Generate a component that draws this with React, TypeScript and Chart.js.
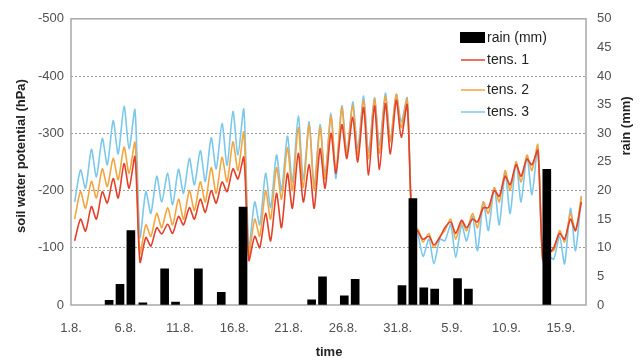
import { useEffect, useRef } from 'react';
import { Chart, registerables } from 'chart.js';

Chart.register(...registerables);

// x axis: days since 1.8.
const xTickLabels = ['1.8.', '6.8.', '11.8.', '16.8.', '21.8.', '26.8.', '31.8.', '5.9.', '10.9.', '15.9.'];
const xMaxDay = 47.3;
// two tensiometer readings per day (hour of day): morning low, evening high
const sampleHours = [8, 21];

// soil water potential (hPa), pairs per day [08:00, 21:00]
const tens1 = [
  -112, -150, -129, -172, -150, -198, -178, -221, -187, -247, -204, -259,
  -75, -118, -103, -135, -124, -141, -125, -155, -140, -170, -150, -185, -162, -200, -178, -215, -198, -238, -220, -258,
  -78, -120, -100, -160, -112, -195, -135, -230, -169, -265, -180, -245, -169, -273, -204, -300, -230, -315, -256, -328, -250, -345, -227, -348, -237, -352, -264, -358, -293, -350,
  -142, -128, -115, -120, -105, -118, -135, -145, -125, -148, -135, -150, -145, -170, -170, -200, -190, -225, -210, -245, -225, -255, -245, -270,
  -80, -90, -100, -125, -115, -150, -130, -180,
];
const tens2 = [
  -150, -198, -169, -216, -187, -238, -207, -256, -219, -276, -230, -284,
  -90, -140, -120, -160, -135, -170, -140, -185, -150, -200, -165, -215, -180, -240, -195, -258, -215, -285, -235, -302,
  -88, -150, -120, -200, -150, -240, -185, -275, -200, -310, -205, -315, -200, -310, -220, -330, -235, -345, -262, -350, -262, -358, -255, -360, -265, -365, -285, -368, -310, -360,
  -138, -132, -110, -125, -100, -120, -130, -150, -115, -145, -130, -160, -135, -180, -160, -205, -180, -235, -200, -250, -215, -262, -235, -280,
  -80, -95, -95, -130, -110, -160, -130, -190,
];
const tens3 = [
  -180, -236, -204, -272, -224, -291, -245, -322, -264, -347, -273, -341,
  -118, -198, -160, -225, -180, -230, -175, -237, -195, -256, -210, -270, -216, -292, -238, -317, -244, -338, -262, -342,
  -100, -180, -140, -230, -170, -262, -200, -295, -215, -330, -220, -320, -210, -315, -225, -335, -221, -348, -267, -355, -273, -365, -267, -362, -279, -370, -290, -368, -320, -362,
  -140, -122, -85, -115, -72, -115, -112, -140, -83, -140, -112, -155, -95, -180, -130, -205, -140, -230, -160, -250, -180, -260, -193, -275,
  -75, -85, -80, -120, -72, -169, -95, -190,
];

// daily rain (mm), bar positions in days since 1.8.
const rainDays = [3.5, 4.5, 5.5, 6.6, 8.6, 9.6, 11.7, 13.8, 15.8, 22.1, 23.1, 25.1, 26.1, 30.4, 31.4, 32.4, 33.4, 35.5, 36.5, 43.7];
const rainMM = [0.8, 3.6, 13.0, 0.4, 6.3, 0.5, 6.3, 2.2, 17.1, 0.9, 4.9, 1.6, 4.5, 3.4, 18.6, 3.0, 2.8, 4.6, 2.8, 23.7];

const leftTicks = [-500, -400, -300, -200, -100, 0];
const rightTicks = [0, 5, 10, 15, 20, 25, 30, 35, 40, 45, 50];

const seriesNames = ['tens. 1', 'tens. 2', 'tens. 3'];
const seriesColors = ['#e4402a', '#f3a53f', '#7cc8ec'];

const FONT = "'Liberation Sans', Arial, sans-serif";

function toPoints(vals: number[]) {
  return vals.map((v, i) => ({ x: Math.floor(i / 2) + sampleHours[i % 2] / 24, y: v }));
}

const decorPlugin = {
  id: 'decor',
  beforeDatasetsDraw(chart: any) {
    const { ctx, chartArea: a } = chart;
    ctx.save();
    ctx.strokeStyle = '#a8a8a8';
    ctx.lineWidth = 1.5;
    ctx.strokeRect(a.left, a.top, a.right - a.left, a.bottom - a.top);
    ctx.restore();
  },
  afterDraw(chart: any) {
    const { ctx } = chart;
    ctx.save();
    // axis titles
    ctx.fillStyle = '#222';
    ctx.font = `bold 13px ${FONT}`;
    ctx.textAlign = 'center';
    ctx.textBaseline = 'middle';
    ctx.save();
    ctx.translate(21, 156);
    ctx.rotate(-Math.PI / 2);
    ctx.fillText('soil water potential (hPa)', 0, 0);
    ctx.restore();
    ctx.save();
    ctx.translate(626, 126);
    ctx.rotate(-Math.PI / 2);
    ctx.fillText('rain (mm)', 0, 0);
    ctx.restore();
    ctx.fillText('time', 329, 352);

    // legend
    ctx.font = `14px ${FONT}`;
    ctx.textAlign = 'left';
    ctx.fillStyle = '#000';
    ctx.fillRect(460, 32, 25, 11);
    ctx.fillStyle = '#222';
    ctx.fillText('rain (mm)', 487, 38);
    const ys = [60, 90, 112];
    seriesNames.forEach((n, i) => {
      ctx.strokeStyle = seriesColors[i];
      ctx.lineWidth = 1.5;
      ctx.beginPath();
      ctx.moveTo(461, ys[i]);
      ctx.lineTo(485, ys[i]);
      ctx.stroke();
      ctx.fillStyle = '#222';
      ctx.fillText(n, 487, ys[i]);
    });
    ctx.restore();
  },
};

export default function App() {
  const ref = useRef<HTMLCanvasElement>(null);
  useEffect(() => {
    if (!ref.current) return;
    const tickFont = { family: FONT, size: 13 };
    const chart = new Chart(ref.current, {
      type: 'line',
      data: {
        datasets: [
          {
            type: 'bar',
            label: 'rain (mm)',
            data: rainDays.map((d, i) => ({ x: d, y: rainMM[i] })),
            yAxisID: 'yRain',
            xAxisID: 'x',
            backgroundColor: '#000',
            barThickness: 8,
            grouped: false,
            order: 0,
          } as any,
          ...[tens1, tens2, tens3].map((vals, i) => ({
            type: 'line',
            label: seriesNames[i],
            data: toPoints(vals),
            yAxisID: 'y',
            xAxisID: 'x',
            borderColor: seriesColors[i],
            borderWidth: 1.6,
            pointRadius: 0,
            tension: 0.25,
            fill: false,
            order: i + 1,
          })),
        ] as any,
      },
      options: {
        animation: false,
        responsive: true,
        maintainAspectRatio: false,
        layout: { padding: { top: 15, left: 0, right: 0, bottom: 0 } },
        plugins: { legend: { display: false }, tooltip: { enabled: false } },
        scales: {
          x: {
            type: 'linear',
            min: 0,
            max: xMaxDay,
            offset: false,
            grid: { display: false, drawTicks: false },
            border: { display: false },
            afterBuildTicks: (s: any) => {
              s.ticks = xTickLabels.map((_, i) => ({ value: i * 5 }));
            },
            afterFit: (s: any) => {
              s.height = 56;
            },
            ticks: {
              font: tickFont,
              color: '#505050',
              padding: 16,
              maxRotation: 0,
              autoSkip: false,
              callback: (v: any) => xTickLabels[Math.round(Number(v) / 5)] ?? '',
            },
          },
          y: {
            type: 'linear',
            position: 'left',
            min: -500,
            max: 0,
            reverse: true,
            afterBuildTicks: (s: any) => {
              s.ticks = leftTicks.map((v) => ({ value: v }));
            },
            afterFit: (s: any) => {
              s.width = 71;
            },
            grid: {
              drawTicks: false,
              color: (c: any) =>
                c.tick && (c.tick.value === 0 || c.tick.value === -500) ? 'rgba(0,0,0,0)' : '#9a9a9a',
              lineWidth: 1,
            },
            border: { display: false, dash: [2, 2] },
            ticks: { font: tickFont, color: '#505050', padding: 7 },
          },
          yRain: {
            type: 'linear',
            position: 'right',
            min: 0,
            max: 50,
            afterBuildTicks: (s: any) => {
              s.ticks = rightTicks.map((v) => ({ value: v }));
            },
            afterFit: (s: any) => {
              s.width = 58;
            },
            grid: { drawOnChartArea: false, drawTicks: false },
            border: { display: false },
            ticks: { font: tickFont, color: '#505050', padding: 11 },
          },
        },
      } as any,
      plugins: [decorPlugin],
    });
    return () => chart.destroy();
  }, []);
  return (
    <div style={{ position: 'absolute', left: 0, top: 0, width: 644, height: 361, background: '#fff' }}>
      <canvas ref={ref} />
    </div>
  );
}
